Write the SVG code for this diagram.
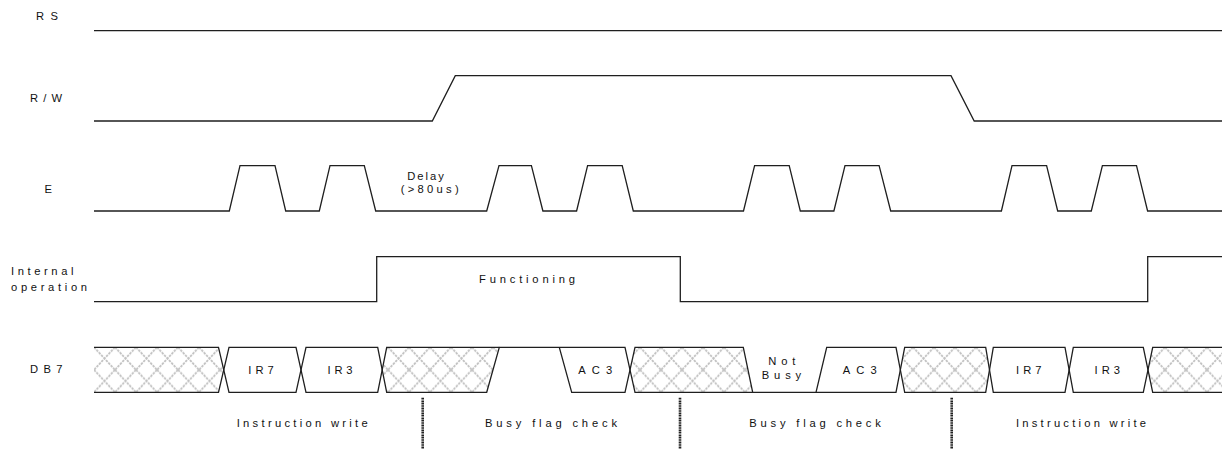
<svg xmlns="http://www.w3.org/2000/svg" width="1223" height="449" viewBox="0 0 1223 449">
<style>
text{font-family:"Liberation Sans",Arial,sans-serif;font-size:11.2px;fill:#111}
.sig{fill:none;stroke:#1f1f1f;stroke-width:1.3;stroke-linejoin:miter}
.hz{fill:url(#hatch);stroke:none}
.div{stroke:#222;stroke-width:2.6;stroke-dasharray:1.2 0.5}
</style>
<defs>
<pattern id="hatch" patternUnits="userSpaceOnUse" x="94" y="347.3" width="21" height="22.5">
<rect width="21" height="22.5" fill="#fff"/>
<path d="M0,0 L21,22.5 M21,0 L0,22.5" stroke="#c2c2c2" stroke-width="1.8" stroke-dasharray="2.5 1" fill="none"/>
</pattern>
</defs>

<g id="labels">
<text x="36" y="20" textLength="22" lengthAdjust="spacing">RS</text>
<text x="30" y="101.7" textLength="32" lengthAdjust="spacing">R/W</text>
<text x="44.5" y="192.5">E</text>
<text x="11" y="275" textLength="62.5" lengthAdjust="spacing">Internal</text>
<text x="11" y="290.7" textLength="76" lengthAdjust="spacing">operation</text>
<text x="30" y="372.7" textLength="32.5" lengthAdjust="spacing">DB7</text>
</g>

<g id="RS">
<path class="sig" d="M94,30.7 H1222"/>
</g>

<g id="RW">
<path class="sig" d="M94,121 H432.3 L455.3,75.7 H951 L974.2,121 H1222"/>
</g>

<g id="E">
<path class="sig" d="M94,211 H229.3 L240,165.7 H275 L285.7,211 H319.3 L330,165.7 H364.3 L375.7,211 H486.7 L499,165.7 H531.4 L542.9,211 H576.6 L587.6,165.7 H622.2 L633.3,211 H743.5 L754.6,165.7 H789.2 L800.3,211 H833.9 L845,165.7 H879.1 L890.7,211 H1001.4 L1012,165.7 H1046.6 L1057.7,211 H1091.3 L1102.4,165.7 H1136.5 L1147.6,211 H1222"/>
<text x="407.3" y="180" textLength="36.5" lengthAdjust="spacing">Delay</text>
<text x="400.7" y="193" textLength="58" lengthAdjust="spacing">(&gt;80us)</text>
</g>

<g id="InternalOperation">
<path class="sig" d="M94,301.7 H376.7 V256.7 H680.3 V301.7 H1147.7 V256.7 H1222"/>
<text x="479" y="283.3" textLength="96" lengthAdjust="spacing">Functioning</text>
</g>

<g id="DB7">
<polygon class="hz" points="94,347.3 218.5,347.3 223.7,369.8 218.5,392.3 94,392.3"/>
<polygon class="hz" points="386.7,347.3 499.3,347.3 486.7,392.3 386.7,392.3 382,369.8"/>
<polygon class="hz" points="635,347.3 743.3,347.3 752.7,392.3 635,392.3 630,369.8"/>
<polygon class="hz" points="904.7,347.3 985.7,347.3 989.5,369.8 985.7,392.3 904.7,392.3 900.3,369.8"/>
<polygon class="hz" points="1152.7,347.3 1222,347.3 1222,392.3 1152.7,392.3 1148,369.8"/>
<path class="sig" d="M94,347.3 H218.5 L229,392.3 H296 L306,347.3 H377.7 L386.7,392.3 H486.7 L499.3,347.3 H625 L635,392.3 H752.7 M816,392.3 H896 L904.7,347.3 H985.7 L993.3,392.3 H1065 L1073.3,347.3 H1143.3 L1152.7,392.3 H1222"/>
<path class="sig" d="M94,392.3 H218.5 L229,347.3 H296 L306,392.3 H377.7 L386.7,347.3 H499.3 M559.3,347.3 L571.7,392.3 H625 L635,347.3 H743.3 L752.7,392.3 H816 L826.7,347.3 H896 L904.7,392.3 H985.7 L993.3,347.3 H1065 L1073.3,392.3 H1143.3 L1152.7,347.3 H1222"/>
<text x="248.3" y="373.5" textLength="25.5" lengthAdjust="spacing">IR7</text>
<text x="327.5" y="373.5" textLength="25" lengthAdjust="spacing">IR3</text>
<text x="578.3" y="373.5" textLength="34" lengthAdjust="spacing">AC3</text>
<text x="768.3" y="365" textLength="27" lengthAdjust="spacing">Not</text>
<text x="761.7" y="378.5" textLength="39.5" lengthAdjust="spacing">Busy</text>
<text x="842.7" y="373.5" textLength="34" lengthAdjust="spacing">AC3</text>
<text x="1016" y="373.5" textLength="25.5" lengthAdjust="spacing">IR7</text>
<text x="1094.5" y="373.5" textLength="25.5" lengthAdjust="spacing">IR3</text>
</g>

<g id="phases">
<line class="div" x1="422.7" y1="397.7" x2="422.7" y2="449"/>
<line class="div" x1="680" y1="397.7" x2="680" y2="449"/>
<line class="div" x1="951.7" y1="397.7" x2="951.7" y2="449"/>
<text x="236.7" y="427" textLength="131" lengthAdjust="spacing">Instruction write</text>
<text x="485" y="427" textLength="132" lengthAdjust="spacing">Busy flag check</text>
<text x="749.3" y="427" textLength="131.5" lengthAdjust="spacing">Busy flag check</text>
<text x="1016" y="427" textLength="130" lengthAdjust="spacing">Instruction write</text>
</g>
</svg>
